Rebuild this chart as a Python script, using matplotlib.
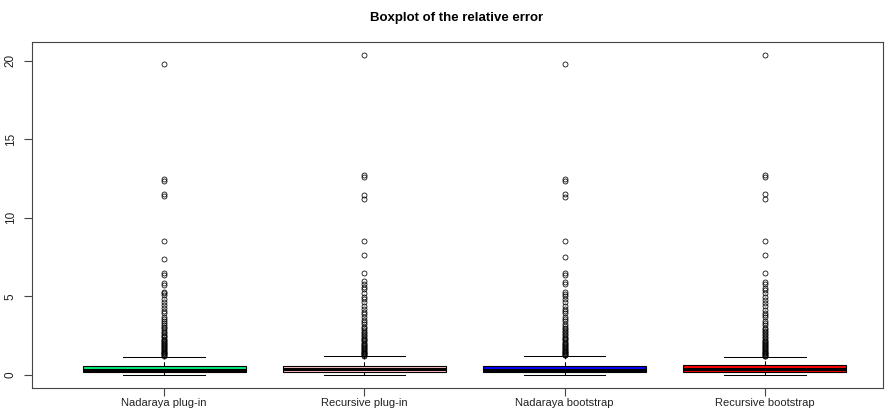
import matplotlib
matplotlib.use("Agg")
import matplotlib.pyplot as plt

plt.rcParams['font.family'] = ['Liberation Sans', 'DejaVu Sans']

categories = ["Nadaraya plug-in", "Recursive plug-in", "Nadaraya bootstrap", "Recursive bootstrap"]
colors = ["#00EE76", "#FFC0CB", "#0000FF", "#FF0000"]

whislo = [0.0, 0.0, 0.0, 0.0]
q1 = [0.15, 0.15, 0.15, 0.16]
med = [0.32, 0.33, 0.32, 0.34]
q3 = [0.55, 0.57, 0.57, 0.60]
whishi = [1.15, 1.17, 1.2, 1.12]

fliers_np = [19.8, 12.45, 12.35, 11.5, 11.4, 8.55, 7.4, 6.5, 6.35, 5.85, 5.7, 5.3, 5.2, 5.05,
             4.85, 4.6, 4.45, 4.25, 4.05, 3.9, 3.7, 3.55, 3.4, 3.3, 3.15, 3.05, 2.95, 2.85,
             2.75, 2.65, 2.55, 2.45, 2.38, 2.3, 2.22, 2.15, 2.08, 2.0, 1.93, 1.86, 1.8, 1.74,
             1.68, 1.62, 1.56, 1.5, 1.45, 1.4, 1.35, 1.3, 1.26, 1.22]
fliers_rp = [20.35, 12.7, 12.6, 11.45, 11.2, 8.5, 7.6, 6.45, 5.95, 5.8, 5.6, 5.45, 5.2, 4.95,
             4.8, 4.6, 4.4, 4.2, 4.0, 3.85, 3.7, 3.5, 3.35, 3.2, 3.05, 2.95, 2.85, 2.75, 2.65,
             2.55, 2.45, 2.35, 2.27, 2.2, 2.12, 2.05, 1.98, 1.9, 1.83, 1.76, 1.7, 1.64, 1.58,
             1.52, 1.46, 1.4, 1.35, 1.3, 1.25, 1.2]
fliers_nb = [19.8, 12.45, 12.35, 11.5, 11.3, 8.55, 7.5, 6.5, 6.35, 5.9, 5.75, 5.3, 5.15, 5.0,
             4.8, 4.6, 4.4, 4.2, 4.05, 3.9, 3.7, 3.55, 3.4, 3.25, 3.1, 3.0, 2.9, 2.8, 2.7, 2.6,
             2.5, 2.42, 2.34, 2.26, 2.18, 2.1, 2.03, 1.96, 1.9, 1.83, 1.77, 1.7, 1.64, 1.58,
             1.52, 1.47, 1.42, 1.37, 1.32, 1.28, 1.24]
fliers_rb = [20.35, 12.7, 12.6, 11.5, 11.2, 8.5, 7.6, 6.5, 5.9, 5.75, 5.55, 5.4, 5.2, 4.95,
             4.75, 4.55, 4.35, 4.15, 3.95, 3.8, 3.65, 3.45, 3.3, 3.15, 3.0, 2.9, 2.8, 2.7, 2.6,
             2.5, 2.4, 2.32, 2.24, 2.16, 2.08, 2.0, 1.94, 1.87, 1.8, 1.74, 1.68, 1.62, 1.56,
             1.5, 1.45, 1.4, 1.35, 1.3, 1.26, 1.22, 1.18]
fliers = [fliers_np, fliers_rp, fliers_nb, fliers_rb]

yticks = [0, 5, 10, 15, 20]

stats = []
for i, c in enumerate(categories):
    stats.append(dict(label=c, whislo=whislo[i], q1=q1[i], med=med[i], q3=q3[i],
                      whishi=whishi[i], fliers=fliers[i]))

fig = plt.figure(figsize=(8.9, 4.12), dpi=100)
ax = fig.add_axes([32/890, (412-387.7)/412, (883-32)/890, (387.7-42)/412])

positions = [1, 2, 3, 4]
bp = ax.bxp(stats, positions=positions, widths=0.815, patch_artist=True,
            showfliers=True,
            boxprops=dict(edgecolor='black', linewidth=0.8),
            medianprops=dict(color='black', linewidth=2.2, solid_capstyle='butt'),
            whiskerprops=dict(color='black', linewidth=0.75, linestyle=(0, (4, 3))),
            capprops=dict(color='black', linewidth=0.75),
            flierprops=dict(marker='o', markersize=3.6, markerfacecolor='none',
                            markeredgecolor='black', markeredgewidth=0.55, linestyle='none'))
for patch, col in zip(bp['boxes'], colors):
    patch.set_facecolor(col)

ax.set_xlim(0.34, 4.59)
ax.set_ylim(-0.83, 21.2)

ax.set_yticks(yticks)
ax.set_yticklabels([str(t) for t in yticks], rotation=90, va='center', fontsize=8.5, color='#222222')
ax.set_xticks(positions)
ax.set_xticklabels(categories, fontsize=8, color='#222222')
ax.tick_params(axis='both', length=6, width=0.8, color='#444444')
ax.tick_params(axis='y', pad=5)
ax.tick_params(axis='x', pad=1.5)
for s in ax.spines.values():
    s.set_color('#444444')
    s.set_linewidth(0.8)

fig.text(457/890, 1 - 18/412, "Boxplot of the relative error", ha='center', va='center',
         fontsize=9.5, fontweight='bold')

fig.savefig("out.png", dpi=100)
